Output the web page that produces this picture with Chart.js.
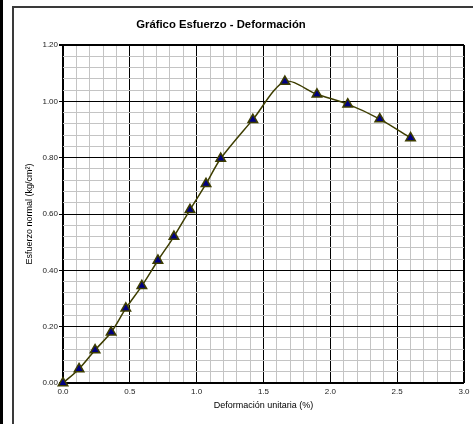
<!DOCTYPE html>
<html>
<head>
<meta charset="utf-8">
<script src="https://cdn.jsdelivr.net/npm/chart.js@4"></script>
<style>
  html, body { margin: 0; padding: 0; background: #fff; }
  #wrap { position: relative; width: 473px; height: 424px; overflow: hidden; }
  #leftBar { position: absolute; left: 0; top: 0; width: 3px; height: 424px; background: #000; }
  #frame { position: absolute; left: 12px; top: 6px; width: 470px; height: 430px; border: 2px solid #3a3a3a; box-sizing: border-box; }
  #chart { position: absolute; left: 0; top: 0; }
</style>
</head>
<body>
<div id="wrap">
  <div id="leftBar"></div>
  <div id="frame"></div>
  <canvas id="chart" width="473" height="424"></canvas>
</div>
<script>
// Stress-strain data
const strain = [0, 0.12, 0.24, 0.36, 0.47, 0.59, 0.71, 0.83, 0.95, 1.07, 1.18, 1.42, 1.66, 1.90, 2.13, 2.37, 2.60];
const stress = [0, 0.05, 0.117, 0.18, 0.265, 0.345, 0.435, 0.52, 0.615, 0.707, 0.797, 0.935, 1.07, 1.025, 0.99, 0.937, 0.87];

const chartTitle = 'Gráfico Esfuerzo - Deformación';
const xTitle = 'Deformación unitaria (%)';
const yTitle = 'Esfuerzo normal (kg/cm²)';

const fontFamily = '"Liberation Sans", Arial, sans-serif';

const points = strain.map((x, i) => ({ x: x, y: stress[i] }));

// draws the chart title at a fixed spot (the Excel title isn't centred on the plot)
const titlePlugin = {
    id: 'fixedTitle',
    afterDraw(chart) {
        const ctx = chart.ctx;
        ctx.save();
        ctx.font = 'bold 11.3px ' + fontFamily;
        ctx.fillStyle = '#000';
        ctx.textAlign = 'center';
        ctx.textBaseline = 'middle';
        ctx.fillText(chartTitle, 221, 25);
        ctx.restore();
    }
};

const isMajorX = v => Math.round(v * 10) % 5 === 0;
const isMajorY = v => Math.round(v * 100) % 20 === 0;

const ctx = document.getElementById('chart');
const stressChart = new Chart(ctx, {
    type: 'scatter',
    data: {
        datasets: [{
            data: points,
            showLine: true,
            clip: false,
            borderColor: '#3d3d00',
            borderWidth: 1.5,
            tension: 0.3,
            pointStyle: 'triangle',
            pointRadius: 5.5,
            pointHoverRadius: 5.5,
            pointBackgroundColor: '#000080',
            pointBorderColor: '#3d3d00',
            pointBorderWidth: 1.5
        }]
    },
    options: {
        responsive: false,
        animation: false,
        layout: { padding: { left: 12, top: 45, right: 9, bottom: 0 } },
        plugins: {
            legend: { display: false },
            title: { display: false },
            tooltip: { enabled: false }
        },
        scales: {
            x: {
                type: 'linear',
                min: 0,
                max: 3,
                afterFit(scale) { scale.height = 41; },
                border: { display: false },
                grid: {
                    color: c => isMajorX(c.tick.value) ? '#000' : '#c4c4c4',
                    lineWidth: c => (c.tick.value <= 0.001 || c.tick.value >= 2.999) ? 2 : 1,
                    tickLength: 3,
                    tickColor: 'rgba(0,0,0,0)'
                },
                ticks: {
                    stepSize: 0.1,
                    autoSkip: false,
                    maxTicksLimit: 100,
                    maxRotation: 0,
                    padding: 1,
                    color: '#222',
                    font: { family: fontFamily, size: 8 },
                    callback: v => isMajorX(v) ? v.toFixed(1) : ''
                },
                title: {
                    display: true,
                    text: xTitle,
                    color: '#000',
                    font: { family: fontFamily, size: 9 },
                    padding: { top: 0, bottom: 12.6 }
                }
            },
            y: {
                type: 'linear',
                min: 0,
                max: 1.2,
                afterFit(scale) { scale.width = 51; },
                border: { display: false },
                grid: {
                    color: c => isMajorY(c.tick.value) ? '#000' : '#c4c4c4',
                    lineWidth: c => (c.tick.value <= 0.001 || c.tick.value >= 1.199) ? 2 : 1,
                    tickLength: 4,
                    tickColor: c => isMajorY(c.tick.value) ? '#000' : 'rgba(0,0,0,0)'
                },
                ticks: {
                    stepSize: 0.04,
                    autoSkip: false,
                    maxTicksLimit: 100,
                    padding: 1,
                    color: '#222',
                    font: { family: fontFamily, size: 8 },
                    callback: v => isMajorY(v) ? v.toFixed(2) : ''
                },
                title: {
                    display: true,
                    text: yTitle,
                    color: '#000',
                    font: { family: fontFamily, size: 9 },
                    padding: { top: 12.6, bottom: 0 }
                }
            }
        }
    },
    plugins: [titlePlugin]
});
</script>
</body>
</html>
